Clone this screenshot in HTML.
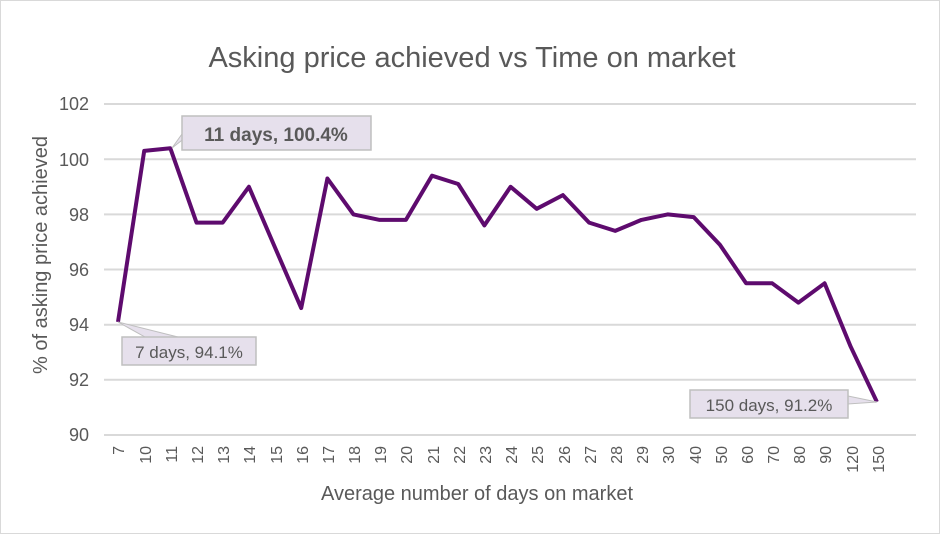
<!DOCTYPE html>
<html><head><meta charset="utf-8"><style>
html,body{margin:0;padding:0;background:#fff;}
svg{display:block;font-family:"Liberation Sans",Arial,sans-serif;}
</style></head><body>
<svg width="941" height="535" viewBox="0 0 941 535">
<rect x="0.5" y="0.5" width="939" height="533" fill="#fff" stroke="#d9d9d9"/>
<text x="472" y="67" font-size="29" fill="#595959" text-anchor="middle">Asking price achieved vs Time on market</text>
<g stroke="#d9d9d9" stroke-width="2">
<line x1="104" x2="916" y1="104" y2="104"/><line x1="104" x2="916" y1="159.2" y2="159.2"/>
<line x1="104" x2="916" y1="214.4" y2="214.4"/><line x1="104" x2="916" y1="269.5" y2="269.5"/>
<line x1="104" x2="916" y1="324.7" y2="324.7"/><line x1="104" x2="916" y1="379.8" y2="379.8"/>
<line x1="104" x2="916" y1="435" y2="435"/>
</g>
<g font-size="18" fill="#595959" text-anchor="end">
<text x="89" y="110">102</text><text x="89" y="166">100</text><text x="89" y="221">98</text>
<text x="89" y="276">96</text><text x="89" y="331">94</text><text x="89" y="386">92</text><text x="89" y="441">90</text>
</g>
<text transform="translate(47,255) rotate(-90)" font-size="20" fill="#595959" text-anchor="middle">% of asking price achieved</text>
<g font-size="16" fill="#595959" text-anchor="end">
<text transform="translate(124,446) rotate(-90)">7</text>
<text transform="translate(151,446) rotate(-90)">10</text>
<text transform="translate(177,446) rotate(-90)">11</text>
<text transform="translate(203,446) rotate(-90)">12</text>
<text transform="translate(229,446) rotate(-90)">13</text>
<text transform="translate(255,446) rotate(-90)">14</text>
<text transform="translate(282,446) rotate(-90)">15</text>
<text transform="translate(308,446) rotate(-90)">16</text>
<text transform="translate(334,446) rotate(-90)">17</text>
<text transform="translate(360,446) rotate(-90)">18</text>
<text transform="translate(386,446) rotate(-90)">19</text>
<text transform="translate(412,446) rotate(-90)">20</text>
<text transform="translate(439,446) rotate(-90)">21</text>
<text transform="translate(465,446) rotate(-90)">22</text>
<text transform="translate(491,446) rotate(-90)">23</text>
<text transform="translate(517,446) rotate(-90)">24</text>
<text transform="translate(543,446) rotate(-90)">25</text>
<text transform="translate(570,446) rotate(-90)">26</text>
<text transform="translate(596,446) rotate(-90)">27</text>
<text transform="translate(622,446) rotate(-90)">28</text>
<text transform="translate(648,446) rotate(-90)">29</text>
<text transform="translate(674,446) rotate(-90)">30</text>
<text transform="translate(701,446) rotate(-90)">40</text>
<text transform="translate(727,446) rotate(-90)">50</text>
<text transform="translate(753,446) rotate(-90)">60</text>
<text transform="translate(779,446) rotate(-90)">70</text>
<text transform="translate(805,446) rotate(-90)">80</text>
<text transform="translate(831,446) rotate(-90)">90</text>
<text transform="translate(858,446) rotate(-90)">120</text>
<text transform="translate(884,446) rotate(-90)">150</text>
</g>
<text x="477" y="500" font-size="20" fill="#595959" text-anchor="middle">Average number of days on market</text>
<polyline fill="none" stroke="#5e0b6e" stroke-width="4" stroke-linejoin="round" points="118,321.9 144.2,150.9 170.3,148.2 196.5,222.6 222.7,222.6 248.9,186.8 275,247.5 301.2,308.1 327.4,178.5 353.5,214.4 379.7,219.9 405.9,219.9 432,175.7 458.2,184 484.4,225.4 510.6,186.8 536.7,208.8 562.9,195.1 589.1,222.6 615.2,230.9 641.4,219.9 667.6,214.4 693.7,217.1 719.9,244.7 746.1,283.3 772.2,283.3 798.4,302.6 824.6,283.3 850.7,346.7 876.9,401.9"/>
<polygon points="172,148 182,134 190,134" fill="#e6e0ec" stroke="#bfbfbf"/>
<rect x="182" y="116" width="189" height="34" fill="#e6e0ec" stroke="#bfbfbf" stroke-width="1.5"/>
<text x="276" y="141" font-size="19" font-weight="bold" fill="#595959" text-anchor="middle">11 days, 100.4%</text>
<polygon points="118,322 145,337 178,337" fill="#e6e0ec" stroke="#bfbfbf"/>
<rect x="122" y="337" width="134" height="28" fill="#e6e0ec" stroke="#bfbfbf" stroke-width="1.5"/>
<text x="189" y="358" font-size="17" fill="#595959" text-anchor="middle">7 days, 94.1%</text>
<polygon points="877,402 848,396 848,404" fill="#e6e0ec" stroke="#bfbfbf"/>
<rect x="690" y="390" width="158" height="28" fill="#e6e0ec" stroke="#bfbfbf" stroke-width="1.5"/>
<text x="769" y="411" font-size="17" fill="#595959" text-anchor="middle">150 days, 91.2%</text>
</svg>
</body></html>
